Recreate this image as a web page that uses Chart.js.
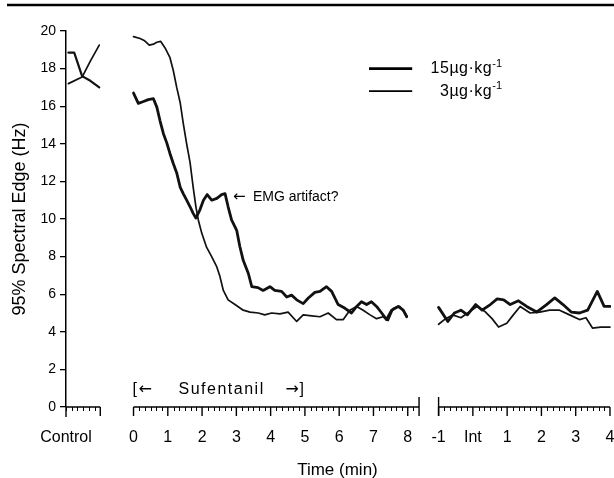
<!DOCTYPE html>
<html>
<head>
<meta charset="utf-8">
<script src="https://cdn.jsdelivr.net/npm/chart.js@4.4.0/dist/chart.umd.min.js"></script>
<style>
  html, body { margin: 0; padding: 0; background: #fff; }
  #wrap { width: 614px; height: 478px; position: relative; }
</style>
</head>
<body>
<div id="wrap"><canvas id="myChart"></canvas></div>
<script>
// control period (min, -1..0)
const controlTime15 = [-0.93, -0.76, -0.53, -0.29, -0.03];
const control15 = [18.85, 18.85, 17.6, 17.35, 17.0];
const controlTime3 = [-0.93, -0.53, -0.29, -0.03];
const control3 = [17.2, 17.55, 18.4, 19.25];

// sufentanil period (min)
const sufTime15 = [0, 0.14, 0.29, 0.43, 0.58, 0.68, 0.77, 0.87, 0.97, 1.06, 1.16, 1.26, 1.36, 1.45, 1.55,
  1.65, 1.74, 1.82, 1.94, 2.04, 2.15, 2.28, 2.43, 2.57, 2.67, 2.76, 2.86, 3.01, 3.1, 3.2,
  3.35, 3.45, 3.63, 3.78, 3.98, 4.12, 4.32, 4.47, 4.61, 4.76, 4.95, 5.1, 5.29, 5.44, 5.63,
  5.78, 5.97, 6.17, 6.36, 6.51, 6.65, 6.8, 6.94, 7.09, 7.24, 7.38, 7.53, 7.72, 7.87, 7.97];
const suf15 = [16.7, 16.15, 16.25, 16.35, 16.4, 15.95, 15.25, 14.55, 14.05, 13.5, 12.95, 12.45, 11.7, 11.35, 11.0,
  10.65, 10.3, 10.05, 10.5, 11.0, 11.3, 11.0, 11.1, 11.3, 11.35, 10.65, 9.95, 9.4, 8.55, 7.8,
  7.1, 6.4, 6.35, 6.2, 6.4, 6.2, 6.15, 5.85, 5.95, 5.7, 5.5, 5.8, 6.1, 6.15, 6.4,
  6.15, 5.45, 5.25, 5.0, 5.35, 5.6, 5.45, 5.6, 5.35, 5.0, 4.65, 5.15, 5.35, 5.15, 4.8];
const sufTime3 = [0, 0.19, 0.31, 0.46, 0.58, 0.68, 0.79, 0.92, 1.06, 1.16, 1.26, 1.36, 1.45, 1.55, 1.65,
  1.74, 1.82, 1.89, 1.99, 2.13, 2.28, 2.43, 2.52, 2.62, 2.76, 2.96, 3.2, 3.4, 3.64, 3.83,
  4.03, 4.27, 4.51, 4.76, 4.95, 5.2, 5.44, 5.68, 5.92, 6.12, 6.31, 6.51, 6.7, 6.9, 7.09,
  7.28, 7.43, 7.58, 7.77, 7.97];
const suf3 = [19.7, 19.6, 19.5, 19.25, 19.3, 19.4, 19.45, 19.1, 18.6, 17.9, 17.0, 16.2, 15.1, 14.0, 13.0,
  11.7, 10.65, 9.95, 9.25, 8.5, 8.0, 7.45, 6.95, 6.2, 5.7, 5.45, 5.15, 5.05, 5.0, 4.9,
  5.0, 4.95, 5.05, 4.55, 4.9, 4.85, 4.8, 5.0, 4.65, 4.65, 5.15, 5.35, 5.15, 4.9, 4.7,
  4.8, 4.6, 5.25, 5.35, 4.85];

// intubation period (min, Int = 0)
const intTime15 = [-1.0, -0.73, -0.54, -0.35, -0.16, 0.08, 0.27, 0.51, 0.71, 0.9, 1.09, 1.33, 1.57, 1.86, 2.15,
  2.39, 2.63, 2.87, 3.11, 3.35, 3.63, 3.83, 4.0];
const int15 = [5.3, 4.55, 5.0, 5.15, 4.9, 5.45, 5.15, 5.45, 5.75, 5.7, 5.45, 5.65, 5.35, 5.05, 5.45,
  5.8, 5.45, 5.05, 5.0, 5.15, 6.15, 5.35, 5.35];
const intTime3 = [-1.0, -0.83, -0.59, -0.35, -0.11, 0.13, 0.37, 0.56, 0.75, 0.99, 1.18, 1.38, 1.67, 1.95, 2.24,
  2.53, 2.82, 3.11, 3.3, 3.49, 3.73, 4.0];
const int3 = [4.4, 4.65, 4.9, 4.75, 5.05, 5.35, 5.05, 4.7, 4.25, 4.45, 4.9, 5.35, 5.0, 5.05, 5.15,
  5.15, 4.9, 4.65, 4.75, 4.2, 4.25, 4.25];

const sufTicks = [0, 1, 2, 3, 4, 5, 6, 7, 8];
const intTicks = [-1, 0, 1, 2, 3, 4];
const intLabels = ['-1', 'Int', '1', '2', '3', '4'];
const yTicks = [0, 2, 4, 6, 8, 10, 12, 14, 16, 18, 20];

// the three pieces share one time scale, shifted
const controlShift = -0.97;
const intShift = 9.9;
const FONT = "'Liberation Sans', Arial, Helvetica, sans-serif";
const ARROWFONT = "'DejaVu Sans', sans-serif";

function pts(times, vals, shift) {
  return times.map((t, i) => ({ x: t + shift, y: vals[i] }));
}

function lineSet(label, data, w) {
  return {
    label: label,
    data: data,
    borderColor: '#111',
    borderWidth: w,
    pointRadius: 0,
    tension: 0,
    fill: false,
    borderJoinStyle: 'round',
    borderCapStyle: 'round'
  };
}

const segAxis = {
  id: 'segAxis',
  afterDraw(chart) {
    const ctx = chart.ctx;
    const x = chart.scales.x;
    const y = chart.scales.y;
    const y0 = y.getPixelForValue(0);
    const px = (v) => x.getPixelForValue(v);

    ctx.save();
    ctx.strokeStyle = '#000';
    ctx.fillStyle = '#000';

    // rule at the top of the figure
    ctx.beginPath();
    ctx.lineWidth = 2.5;
    ctx.moveTo(7, 5);
    ctx.lineTo(614, 5);
    ctx.stroke();
    ctx.lineWidth = 1.4;

    function seg(from, to, shift, majors) {
      ctx.beginPath();
      ctx.moveTo(px(from + shift), y0);
      ctx.lineTo(px(to + shift), y0);
      ctx.stroke();
      ctx.lineWidth = 1;
      for (let k = Math.ceil(from * 6); k <= Math.floor(to * 6); k++) {
        const t = k / 6;
        if (majors.indexOf(t) >= 0) continue;
        const p = Math.round(px(t + shift)) + 0.5;
        ctx.beginPath();
        ctx.moveTo(p, y0);
        ctx.lineTo(p, y0 + 4);
        ctx.stroke();
      }
      ctx.lineWidth = 1.4;
      majors.forEach(t => {
        const p = px(t + shift);
        ctx.beginPath();
        ctx.moveTo(p, y0);
        ctx.lineTo(p, y0 + 9);
        ctx.stroke();
      });
    }

    function tall(v) {
      ctx.beginPath();
      ctx.moveTo(px(v), y0 - 10);
      ctx.lineTo(px(v), y0 + 9);
      ctx.stroke();
    }

    // y axis runs a little below zero
    ctx.beginPath();
    ctx.moveTo(chart.chartArea.left, y0);
    ctx.lineTo(chart.chartArea.left, y0 + 10);
    ctx.stroke();

    seg(-1, 0, controlShift, [0]);
    seg(0, 8.33, 0, sufTicks);
    tall(8.33);
    seg(-1, 4, intShift, intTicks);
    tall(-1 + intShift);

    // tick labels
    ctx.font = '16px ' + FONT;
    ctx.textAlign = 'center';
    ctx.textBaseline = 'middle';
    ctx.fillText('Control', chart.chartArea.left, y0 + 31);
    sufTicks.forEach(t => ctx.fillText(String(t), px(t), y0 + 31));
    intTicks.forEach((t, i) => ctx.fillText(intLabels[i], px(t + intShift), y0 + 31));

    ctx.font = '17px ' + FONT;
    ctx.fillText('Time (min)', px(5.95), y0 + 63);

    // sufentanil bracket
    const by = y0 - 17;
    ctx.font = '16px ' + FONT;
    ctx.textAlign = 'left';
    ctx.fillText('[', px(0) - 1, by);
    ctx.textAlign = 'right';
    ctx.fillText(']', px(4.97), by);
    ctx.font = '16px ' + ARROWFONT;
    ctx.textAlign = 'left';
    ctx.fillText('\u2190', px(0) + 5, by);
    ctx.textAlign = 'right';
    ctx.fillText('\u2192', px(4.97) - 5, by);
    ctx.font = '16px ' + FONT;
    ctx.letterSpacing = '1.5px';
    ctx.textAlign = 'center';
    ctx.fillText('Sufentanil', px(2.57), by);
    ctx.letterSpacing = '0px';

    // annotation
    const ay = y.getPixelForValue(11.15);
    ctx.font = '15px ' + ARROWFONT;
    ctx.textAlign = 'left';
    ctx.fillText('\u2190', px(2.9), ay);
    ctx.font = '14px ' + FONT;
    ctx.fillText('EMG artifact?', px(2.9) + 20, ay);

    // legend
    const legend = [
      { w: 2.8, txt: '15\u00b5g\u00b7kg', v: 18.0 },
      { w: 1.7, txt: '3\u00b5g\u00b7kg', v: 16.8 }
    ];
    const rightEdge = px(10.75);
    legend.forEach(l => {
      const yy = y.getPixelForValue(l.v);
      ctx.lineWidth = l.w;
      ctx.beginPath();
      ctx.moveTo(px(6.87), yy);
      ctx.lineTo(px(8.13), yy);
      ctx.stroke();
      ctx.font = '11px ' + FONT;
      const sw = ctx.measureText('-1').width;
      ctx.textAlign = 'right';
      ctx.fillText('-1', rightEdge, yy - 5);
      ctx.font = '16px ' + FONT;
      ctx.letterSpacing = '0.5px';
      ctx.fillText(l.txt, rightEdge - sw, yy);
      ctx.letterSpacing = '0px';
    });

    ctx.restore();
  }
};

new Chart(document.getElementById('myChart'), {
  type: 'line',
  data: {
    datasets: [
      lineSet('15 control', pts(controlTime15, control15, controlShift), 2.2),
      lineSet('3 control', pts(controlTime3, control3, controlShift), 1.7),
      lineSet('15', pts(sufTime15, suf15, 0), 2.8),
      lineSet('3', pts(sufTime3, suf3, 0), 1.7),
      lineSet('15 int', pts(intTime15, int15, intShift), 2.8),
      lineSet('3 int', pts(intTime3, int3, intShift), 1.7)
    ]
  },
  options: {
    responsive: true,
    maintainAspectRatio: false,
    animation: false,
    layout: { padding: { left: 0, right: 3, top: 31, bottom: 71 } },
    plugins: { legend: { display: false }, tooltip: { enabled: false } },
    scales: {
      x: { type: 'linear', min: -1.97, max: 13.93, display: false },
      y: {
        min: 0,
        max: 20,
        afterBuildTicks: (scale) => { scale.ticks = yTicks.map(v => ({ value: v })); },
        ticks: { color: '#000', font: { family: FONT, size: 14 }, padding: 4 },
        grid: { drawOnChartArea: false, tickLength: 6, color: '#000', lineWidth: 1.3 },
        border: { color: '#000', width: 1.5 },
        title: {
          display: true,
          text: '95% Spectral Edge (Hz)',
          color: '#000',
          font: { family: FONT, size: 18 },
          padding: { top: 9, bottom: 0 }
        },
        afterFit: (scale) => { scale.width = 66; }
      }
    }
  },
  plugins: [segAxis]
});
</script>
</body>
</html>
